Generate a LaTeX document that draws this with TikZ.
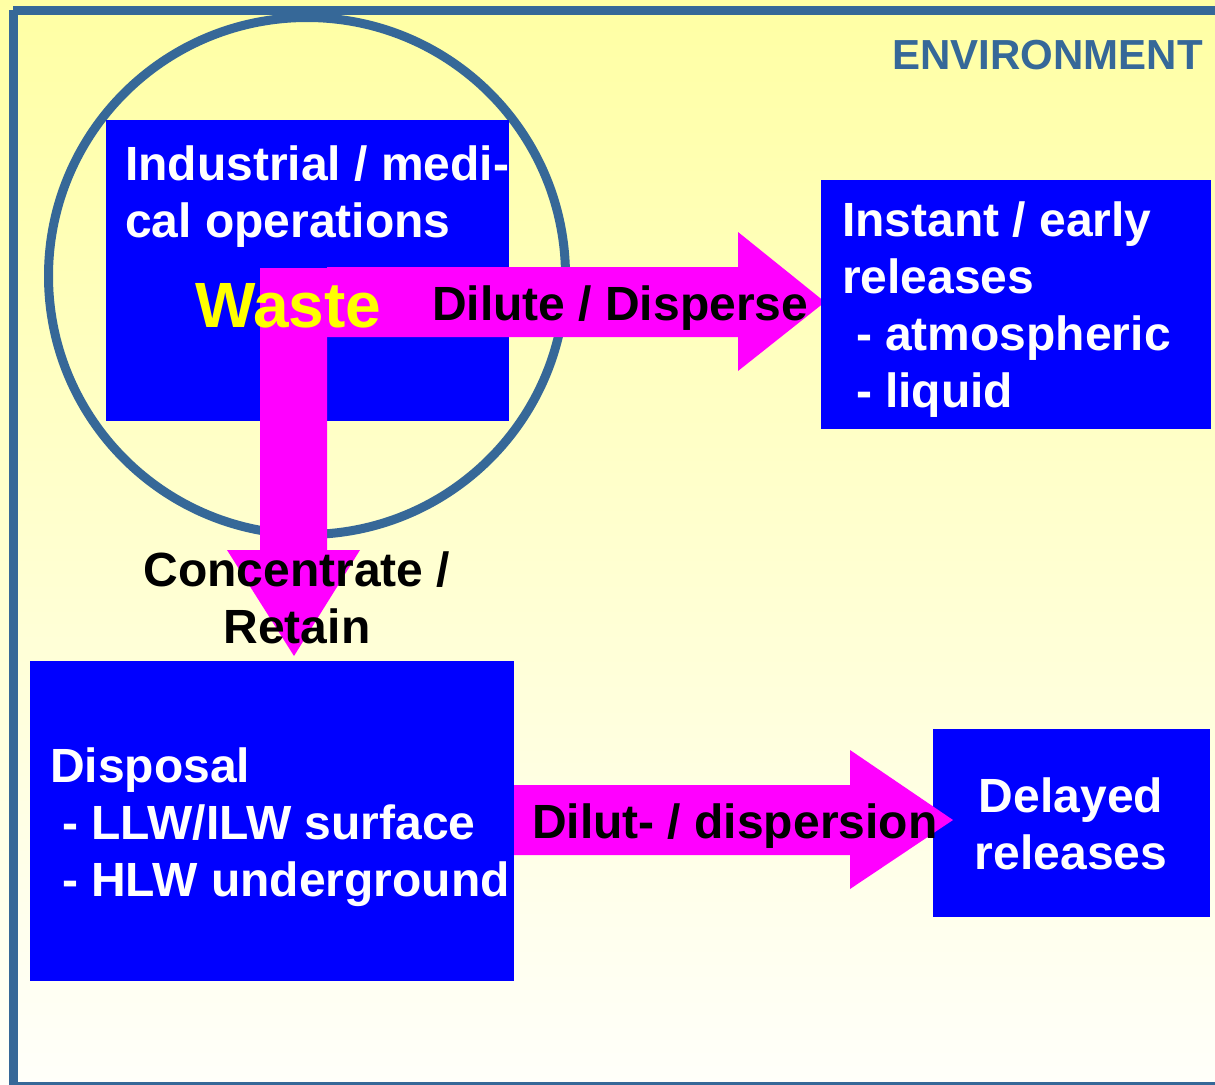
\documentclass[tikz,border=0pt]{standalone}
\usepackage{fontspec}
\setmainfont{Liberation Sans}
\definecolor{envblue}{RGB}{54,104,152}
\definecolor{boxblue}{RGB}{0,0,255}
\definecolor{mag}{RGB}{255,0,255}
\definecolor{wasteyellow}{RGB}{255,255,0}
\definecolor{bgtop}{RGB}{255,255,164}
\definecolor{bgbot}{RGB}{255,255,250}
\begin{document}
\begin{tikzpicture}[x=1pt,y=-1pt,
  bluebox/.style={fill=boxblue, draw=none, inner sep=0pt, outer sep=0pt, anchor=north west},
  bigtxt/.style={inner sep=0pt, outer sep=0pt, font=\fontsize{48}{57}\selectfont\bfseries},
  whitetxt/.style={bigtxt, text=white, align=left, anchor=base west},
  blacktxt/.style={bigtxt, text=black},
  blockarrow/.style={fill=mag, draw=none},
  frameline/.style={draw=envblue, line width=9pt}]
\useasboundingbox (0,0) rectangle (1215,1084);
% background
\shade[top color=bgtop, bottom color=bgbot] (0,0) rectangle (1215,1084);
% frame
\draw[frameline] (13,10) -- (1230,10);
\draw[frameline] (13,10) -- (13,1086);
\draw[frameline] (13,1086) -- (1230,1086);
% circle
\node[draw=envblue, line width=9pt, circle, minimum size=517pt, inner sep=0pt] (circ) at (307,276) {};
% industrial box
\node[bluebox, minimum width=403pt, minimum height=301pt] (ind) at (106,120) {};
% block arrows
\fill[blockarrow] (260,268) -- (327,268) -- (327,550) -- (360,550) -- (294,656) -- (227,550) -- (260,550) -- cycle;
\fill[blockarrow] (327,267) -- (738,267) -- (738,232) -- (825,302) -- (738,371) -- (738,337) -- (327,337) -- cycle;
% instant box
\node[bluebox, minimum width=390pt, minimum height=249pt] (inst) at (821,180) {};
% disposal box
\node[bluebox, minimum width=484pt, minimum height=320pt] (disp) at (30,661) {};
% delayed box
\node[bluebox, minimum width=277pt, minimum height=188pt] (dela) at (933,729) {};
% bottom arrow
\fill[blockarrow] (514,785) -- (850,785) -- (850,750) -- (953,820) -- (850,889) -- (850,855) -- (514,855) -- cycle;
% texts (multi-line nodes are placed by the baseline of their last line)
\node[inner sep=0pt, anchor=base east, text=envblue, font=\fontsize{42}{49}\selectfont\bfseries] (env) at (1203,69) {ENVIRONMENT};
\node[whitetxt] (indtxt) at (125,237) {Industrial / medi-\\cal operations};
\node[inner sep=0pt, anchor=base west, text=wasteyellow, font=\fontsize{64}{70}\selectfont\bfseries] (waste) at (195,327) {Waste};
\node[blacktxt, anchor=base west] (dil) at (432,320) {Dilute / Disperse};
\node[whitetxt] (insttxt) at (842,407) {Instant / early\\releases\\\hspace*{14pt}- atmospheric\\\hspace*{14pt}- liquid};
\node[blacktxt, align=center, anchor=base] (conc) at (297,643) {Concentrate /\\Retain};
\node[whitetxt] (disptxt) at (50,896) {Disposal\\\hspace*{12pt}- LLW/ILW surface\\\hspace*{12pt}- HLW underground};
\node[bigtxt, text=white, align=center, anchor=base] (delatxt) at (1071,869) {Delayed\\releases};
\node[blacktxt, anchor=base west] (dil2) at (532,838) {Dilut- / dispersion};
\end{tikzpicture}
\end{document}
